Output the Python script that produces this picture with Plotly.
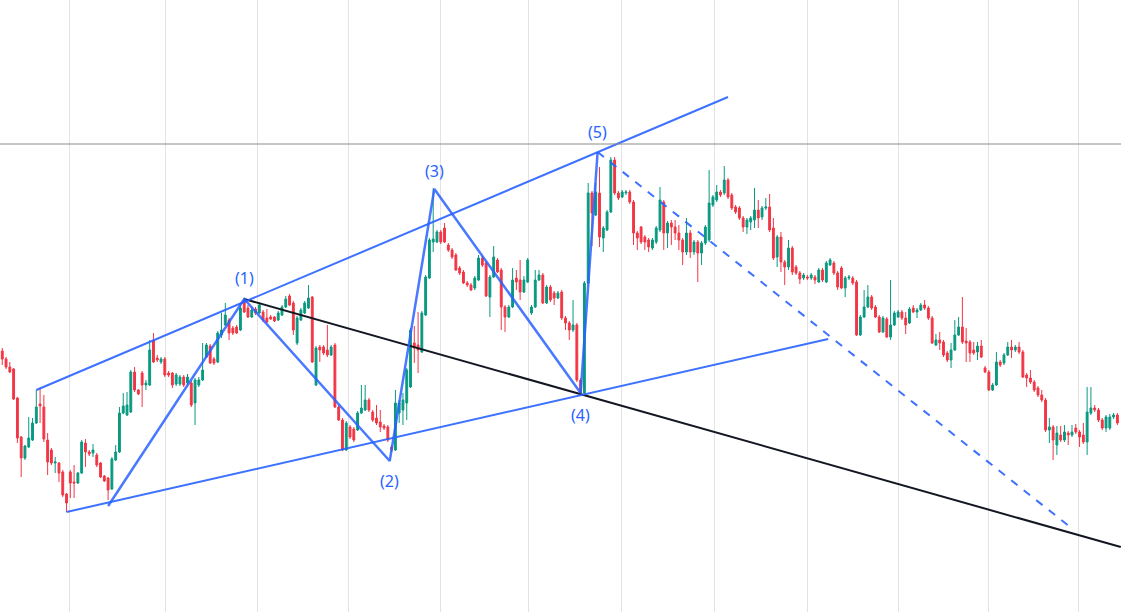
import plotly.graph_objects as go

# ---- candle data (arbitrary price units) ----
open_ = [267,261,253,245,243,214,175,154,165,172,189,208,205,172,162,149,149,140,118,140,
         130,129,139,169,160,159,157,149,136,134,123,152,160,199,197,200,240,222,239,227,
         227,272,254,250,253,239,239,228,228,235,229,229,209,227,232,255,266,253,250,277,
         287,292,284,285,282,312,304,295,303,299,300,294,295,295,292,297,305,316,309,269,
         292,299,304,315,227,265,265,262,257,267,205,192,162,185,183,182,199,202,212,200,
         194,190,186,185,165,162,199,202,209,225,269,267,260,297,334,370,370,380,384,367,
         362,357,344,340,329,327,324,332,354,349,315,335,352,342,305,295,305,334,332,320,
         330,299,305,332,337,309,325,319,314,320,294,289,282,287,232,219,329,419,397,419,
         374,382,400,452,419,415,419,420,410,379,385,375,372,364,370,382,410,379,389,385,
         379,372,360,379,360,370,359,369,372,407,412,420,419,432,417,405,404,394,385,390,
         392,402,395,404,405,384,355,375,350,345,364,345,339,334,335,334,335,330,342,330,
         347,349,339,344,324,334,334,330,277,295,305,315,305,295,280,293,275,287,295,300,
         294,289,304,300,302,307,304,294,267,272,270,259,252,262,277,285,271,270,262,260,
         266,244,240,222,227,250,249,257,265,262,265,260,237,234,230,224,217,212,182,185,
         167,177,172,179,177,184,180,177,170,199,204,202,192,184,184,195,197]
high = [269,264,255,250,244,215,176,167,195,194,222,224,217,179,164,155,150,142,119,142,
        147,140,172,173,162,168,159,150,137,135,155,167,205,219,220,242,245,223,241,232,
        272,279,257,255,255,241,240,239,237,237,238,231,234,235,269,269,268,255,281,299,
        309,294,286,287,309,314,307,305,305,310,302,303,297,296,301,307,316,318,311,296,
        304,311,327,316,266,267,267,287,267,269,207,194,191,187,185,201,227,227,214,202,
        207,202,188,187,167,222,212,219,244,284,286,300,301,337,374,424,382,382,389,369,
        364,359,346,342,331,329,336,357,356,351,337,366,354,344,307,307,344,342,352,336,
        354,307,342,342,339,327,327,321,321,322,296,291,312,289,234,331,429,421,429,445,
        386,402,455,455,421,422,422,422,412,381,386,377,374,374,386,425,412,391,392,392,
        387,374,394,382,372,372,371,387,442,417,427,422,446,434,419,407,406,396,394,396,
        424,412,406,414,418,394,377,380,352,372,366,347,341,339,337,339,337,344,344,351,
        354,351,341,346,336,337,336,332,297,322,327,317,307,297,296,295,332,301,302,302,
        300,305,307,304,309,312,306,296,278,280,272,261,269,292,295,315,284,272,270,270,
        272,246,242,229,260,252,259,270,272,267,270,262,239,242,232,226,222,214,194,187,
        186,186,187,181,187,188,182,189,225,225,207,204,194,197,198,199,199]
low = [262,247,243,239,212,169,135,152,164,171,188,189,170,137,147,139,130,115,100,114,
       114,128,138,145,156,155,145,134,130,112,122,151,159,198,196,199,220,217,205,222,
       226,249,250,248,235,235,224,226,226,225,227,205,187,225,231,254,248,247,249,274,
       286,272,277,278,281,299,294,294,297,298,290,289,292,290,291,296,304,306,277,267,
       291,298,303,249,226,250,257,255,256,204,191,161,161,173,170,181,198,201,200,190,
       187,180,182,170,160,161,189,187,192,224,249,239,259,296,333,360,369,368,369,360,
       353,341,337,328,325,321,322,331,345,315,295,334,339,282,280,294,304,322,312,319,
       329,297,304,331,308,308,310,307,313,292,282,272,280,230,217,218,328,366,396,365,
       360,381,399,417,412,414,417,408,367,362,368,362,360,362,368,380,362,364,367,372,
       362,347,357,354,357,330,347,367,370,405,410,415,417,413,402,398,392,380,378,382,
       384,384,392,402,380,352,345,340,327,342,337,337,328,332,332,332,328,329,330,329,
       346,337,322,323,315,332,327,276,276,294,304,302,294,279,279,274,272,286,294,292,
       278,288,299,294,301,302,292,268,266,262,255,250,244,261,276,268,250,250,257,252,
       254,239,221,221,226,245,247,256,254,260,258,234,225,228,220,215,210,180,169,152,
       157,170,170,167,175,178,165,168,157,197,200,190,182,180,182,193,187]
close = [264,253,245,240,213,174,154,166,174,189,205,206,173,150,149,150,139,117,109,129,
         129,139,170,160,158,162,147,135,131,122,153,160,199,206,207,240,222,218,227,229,
         262,250,252,253,237,237,227,237,235,227,235,207,232,232,242,267,249,249,279,282,
         297,279,279,279,304,300,295,302,299,307,292,290,293,291,299,305,313,307,282,294,
         302,309,314,250,264,262,259,257,265,205,192,162,189,175,172,199,204,212,202,192,
         189,185,184,172,162,209,209,212,242,282,264,262,299,335,372,373,380,370,370,362,
         355,342,339,329,327,322,334,354,347,316,335,355,340,305,295,305,332,330,320,332,
         352,305,332,337,309,325,312,314,319,294,289,282,287,232,219,329,419,399,420,375,
         384,400,452,419,414,420,420,410,379,374,370,370,365,372,384,412,379,389,385,379,
         372,360,379,360,370,359,369,385,409,415,420,417,432,415,404,400,394,385,392,394,
         402,394,404,405,382,354,375,350,345,364,340,339,333,337,334,337,332,342,332,349,
         352,339,325,324,334,335,329,277,295,305,315,304,295,280,294,275,287,299,300,294,
         287,303,300,302,307,304,294,269,272,269,257,252,262,277,285,270,269,259,259,266,
         255,240,222,227,250,247,257,265,262,265,260,235,234,230,222,217,212,182,185,172,
         179,172,180,177,180,180,175,170,200,204,202,192,184,195,195,197,189]
idx = list(range(len(close)))

# ---- drawing data ----
month_ticks = [18.9, 44.3, 68.65, 92.7, 116.8, 140.3, 164.7, 189.5, 213.9, 238.0, 261.8, 285.8]
wave_x = [29, 65, 103.5, 115.3, 154, 158.5]
wave_y = [106, 313, 151, 423, 219, 460]
wave_labels = ["", "(1)", "(2)", "(3)", "(4)", "(5)"]
label_shift = [0, 21, -20, 18, -22, 20]
upper_x, upper_y = [10, 193], [222, 515]
lower_x, lower_y = [18, 219.5], [100, 273]
black_x, black_y = [65, 296.9], [313, 65]
dash_x, dash_y = [158.5, 283.5], [460, 85]
resistance = 468

BLUE = "#2962ff"
fig = go.Figure()
fig.add_trace(go.Candlestick(
    x=idx, open=open_, high=high, low=low, close=close,
    increasing=dict(line=dict(color="#089981", width=1), fillcolor="#089981"),
    decreasing=dict(line=dict(color="#f23645", width=1), fillcolor="#f23645"),
    whiskerwidth=0, showlegend=False, hoverinfo="skip"))
fig.add_trace(go.Scatter(x=black_x, y=black_y, mode="lines",
                         line=dict(color="#131722", width=2), showlegend=False))
fig.add_trace(go.Scatter(x=upper_x, y=upper_y, mode="lines",
                         line=dict(color=BLUE, width=2), opacity=0.9, showlegend=False))
fig.add_trace(go.Scatter(x=lower_x, y=lower_y, mode="lines",
                         line=dict(color=BLUE, width=2), opacity=0.9, showlegend=False))
fig.add_trace(go.Scatter(x=dash_x, y=dash_y, mode="lines",
                         line=dict(color=BLUE, width=2, dash="8px,8px"), opacity=0.9,
                         showlegend=False))
fig.add_trace(go.Scatter(x=wave_x, y=wave_y, mode="lines",
                         line=dict(color=BLUE, width=2.5), opacity=0.85, showlegend=False))

fig.add_shape(type="line", xref="paper", x0=0, x1=1, y0=resistance, y1=resistance,
              line=dict(color="#8a8a8a", width=1))

for x, y, t, s in zip(wave_x, wave_y, wave_labels, label_shift):
    if t:
        fig.add_annotation(x=x, y=y, text=t, showarrow=False, yshift=s,
                           font=dict(family="Noto Sans, Roboto, sans-serif", size=16, color=BLUE))

fig.update_layout(
    width=1121, height=612, margin=dict(l=0, r=0, t=0, b=0),
    paper_bgcolor="white", plot_bgcolor="white",
    xaxis=dict(range=[0.397, 296.96], tickvals=month_ticks, showticklabels=False,
               showgrid=True, gridcolor="#e3e3e3", gridwidth=1, zeroline=False,
               rangeslider=dict(visible=False), showline=False, ticks=""),
    yaxis=dict(range=[0, 612], visible=False, showgrid=False, zeroline=False),
)
fig.write_html("out.html", config={"displayModeBar": False},
               post_script="document.body.style.margin='0';document.body.style.overflow='hidden';")
